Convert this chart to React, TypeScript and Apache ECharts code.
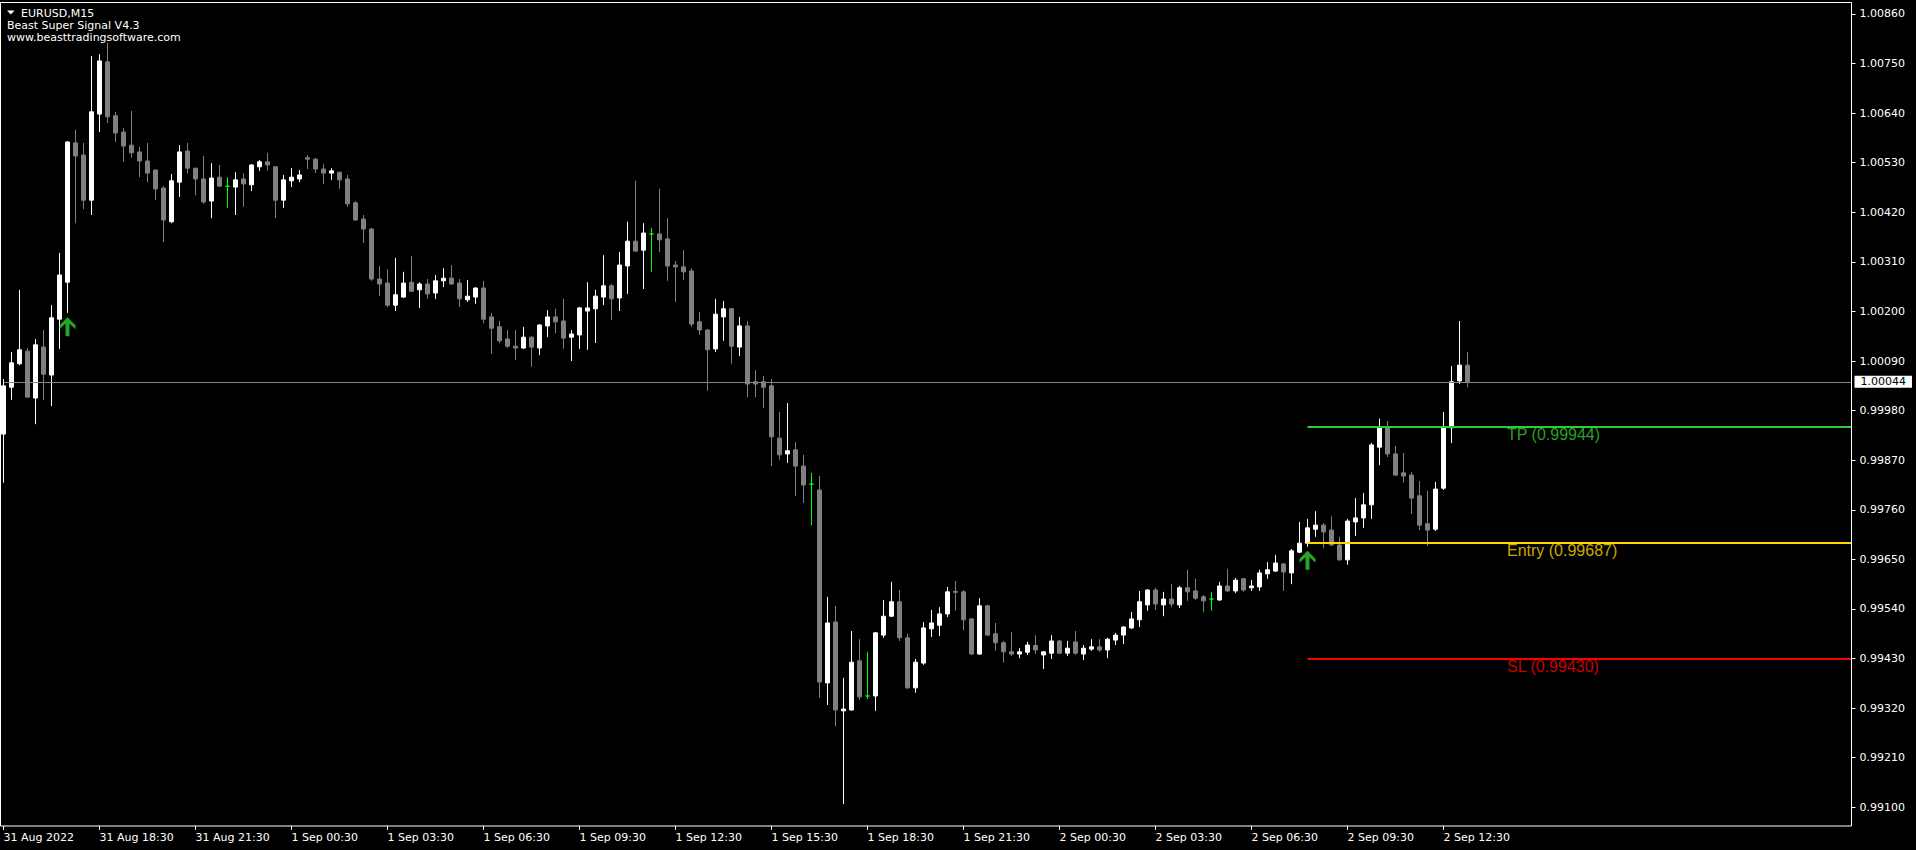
import React, { useEffect, useRef } from "react";
import * as echarts from "echarts";

// ---- Data (EURUSD M15, 31 Aug 15:30 → 2 Sep 13:15) ----
const openP = [
  0.99928, 1.00032, 1.00084, 1.00112, 1.00008, 1.00121, 1.00059, 1.00183, 1.00265, 1.00574,
  1.00547, 1.00447, 1.00638, 1.00754, 1.00634, 1.00598, 1.00569, 1.00554, 1.00534, 1.00514,
  1.00474, 1.00399, 1.00487, 1.00556, 1.00518, 1.00494, 1.00445, 1.00498, 1.00478, 1.00476,
  1.00494, 1.00481, 1.00521, 1.00532, 1.00521, 1.00447, 1.0049, 1.00494, 1.00541, 1.00538,
  1.00516, 1.00507, 1.00509, 1.00494, 1.00441, 1.00405, 1.00383, 1.00272, 1.00263, 1.00214,
  1.00232, 1.00265, 1.00248, 1.00261, 1.00241, 1.00268, 1.00274, 1.00263, 1.00226, 1.00232,
  1.00252, 1.00188, 1.00166, 1.00139, 1.00123, 1.00119, 1.00143, 1.00119, 1.00168, 1.00188,
  1.00179, 1.00143, 1.00148, 1.00201, 1.00206, 1.00232, 1.00257, 1.0023, 1.00301, 1.00356,
  1.00336, 1.00372, 1.00372, 1.00361, 1.00303, 1.00299, 1.0029, 1.00177, 1.00159, 1.00117,
  1.00188, 1.00206, 1.00121, 1.00168, 1.00044, 1.00044, 1.00035, 0.99919, 0.99884, 0.99893,
  0.99857, 0.99817, 0.99804, 0.99376, 0.99511, 0.99314, 0.99316, 0.99425, 0.99347, 0.99347,
  0.99482, 0.99524, 0.99556, 0.99476, 0.99365, 0.9942, 0.99496, 0.99504, 0.99529, 0.99579,
  0.99578, 0.99518, 0.9944, 0.99547, 0.99485, 0.99465, 0.99445, 0.9944, 0.99444, 0.99459,
  0.99438, 0.99442, 0.99469, 0.99442, 0.99467, 0.9944, 0.99451, 0.99456, 0.99449, 0.99471,
  0.99482, 0.99498, 0.99516, 0.99549, 0.99582, 0.99549, 0.99562, 0.99549, 0.99587, 0.9958,
  0.99567, 0.99562, 0.9956, 0.99591, 0.9958, 0.99607, 0.99587, 0.99589, 0.99618, 0.99624,
  0.9964, 0.9962, 0.99666, 0.99686, 0.99717, 0.99726, 0.99715, 0.99682, 0.99649, 0.99733,
  0.99742, 0.99771, 0.99899, 0.99942, 0.99884, 0.99842, 0.99837, 0.99791, 0.99729, 0.99717,
  0.99808, 0.99942, 1.00046, 1.00081,
];
const closeP = [
  1.00035, 1.00086, 1.00115, 1.0001, 1.00126, 1.00061, 1.00186, 1.00281, 1.00576, 1.00545,
  1.00447, 1.00643, 1.00756, 1.00632, 1.00596, 1.00567, 1.00552, 1.00534, 1.00507, 1.00472,
  1.00403, 1.0049, 1.00554, 1.00518, 1.00494, 1.00443, 1.00496, 1.00478, 1.00478, 1.00492,
  1.00483, 1.00525, 1.00532, 1.00525, 1.00447, 1.00492, 1.00498, 1.00503, 1.00538, 1.00516,
  1.00507, 1.00512, 1.00492, 1.00439, 1.00403, 1.00383, 1.00272, 1.00261, 1.00214, 1.00237,
  1.00263, 1.00245, 1.00261, 1.00239, 1.00268, 1.00274, 1.00261, 1.00228, 1.00234, 1.00252,
  1.00183, 1.00163, 1.00135, 1.00123, 1.00119, 1.00143, 1.00121, 1.0017, 1.00188, 1.00177,
  1.00141, 1.0015, 1.00208, 1.00208, 1.00234, 1.00257, 1.00228, 1.00303, 1.00356, 1.00334,
  1.00374, 1.00372, 1.00359, 1.00301, 1.00299, 1.00288, 1.00172, 1.00159, 1.00115, 1.00194,
  1.00206, 1.00123, 1.00168, 1.00039, 1.00039, 1.00032, 0.99922, 0.99882, 0.99891, 0.99857,
  0.99815, 0.99817, 0.99378, 0.99509, 0.99316, 0.99318, 0.99422, 0.99345, 0.99347, 0.99487,
  0.99524, 0.99556, 0.99476, 0.99365, 0.99422, 0.99498, 0.99509, 0.99529, 0.99578, 0.99577,
  0.99516, 0.9944, 0.99547, 0.99482, 0.99465, 0.99445, 0.9944, 0.99445, 0.9946, 0.99449,
  0.99445, 0.99469, 0.99442, 0.99453, 0.99442, 0.99453, 0.99456, 0.99449, 0.99473, 0.99482,
  0.995, 0.99518, 0.99556, 0.99582, 0.99551, 0.99562, 0.99551, 0.99587, 0.99578, 0.99564,
  0.99558, 0.99562, 0.99591, 0.9958, 0.99604, 0.99582, 0.99591, 0.9962, 0.99627, 0.99642,
  0.99622, 0.99669, 0.99686, 0.9972, 0.99726, 0.99711, 0.99682, 0.99649, 0.99735, 0.99742,
  0.99771, 0.99904, 0.99942, 0.99884, 0.99837, 0.99835, 0.99786, 0.99726, 0.99715, 0.99806,
  0.99944, 1.00044, 1.00081, 1.00044,
];
const lowP = [
  0.9982, 1.00004, 1.00081, 1.0001, 0.9995, 1.00004, 0.9999, 1.00117, 1.00197, 1.00396,
  1.00427, 1.00414, 1.00598, 1.00618, 1.00576, 1.00532, 1.00541, 1.00498, 1.00487, 1.00447,
  1.00354, 1.00396, 1.00454, 1.00507, 1.00458, 1.00439, 1.00407, 1.00478, 1.0043, 1.00414,
  1.00432, 1.00467, 1.00512, 1.00512, 1.00407, 1.0043, 1.00476, 1.00487, 1.00516, 1.00507,
  1.00483, 1.00492, 1.00472, 1.00432, 1.00401, 1.00352, 1.00268, 1.00234, 1.0021, 1.00201,
  1.0023, 1.00243, 1.00208, 1.00228, 1.00228, 1.00254, 1.00259, 1.0021, 1.00221, 1.00217,
  1.00174, 1.00106, 1.0013, 1.00119, 1.00092, 1.00117, 1.00077, 1.00103, 1.00143, 1.00152,
  1.00117, 1.0009, 1.00117, 1.00115, 1.0013, 1.00214, 1.00181, 1.00201, 1.00239, 1.00332,
  1.0025, 1.00288, 1.00332, 1.00268, 1.00221, 1.0027, 1.00166, 1.00148, 1.00024, 1.0011,
  1.00135, 1.00084, 1.00101, 1.0001, 1.0001, 0.99986, 0.99857, 0.99871, 0.99864, 0.99791,
  0.99775, 0.99726, 0.99343, 0.99327, 0.9928, 0.99107, 0.99314, 0.99338, 0.9934, 0.99314,
  0.99476, 0.99522, 0.99469, 0.99363, 0.99354, 0.99416, 0.99478, 0.9948, 0.99522, 0.99536,
  0.99493, 0.99438, 0.99438, 0.9948, 0.99447, 0.99421, 0.99436, 0.99431, 0.99438, 0.9944,
  0.99407, 0.99429, 0.9944, 0.99436, 0.99438, 0.99427, 0.99447, 0.99445, 0.99431, 0.9946,
  0.99462, 0.99496, 0.995, 0.99536, 0.99538, 0.99524, 0.99544, 0.99542, 0.99558, 0.9956,
  0.99533, 0.99536, 0.99558, 0.99578, 0.99575, 0.99578, 0.9958, 0.9958, 0.99607, 0.99622,
  0.9958, 0.99595, 0.99664, 0.99678, 0.997, 0.99675, 0.9968, 0.99647, 0.99638, 0.99702,
  0.9972, 0.9974, 0.99859, 0.99877, 0.99835, 0.9982, 0.99751, 0.99715, 0.9968, 0.99713,
  0.99804, 0.99908, 1.00039, 1.00032,
];
const highP = [
  1.0005, 1.0011, 1.00248, 1.00119, 1.00139, 1.00159, 1.00214, 1.0033, 1.00578, 1.00603,
  1.00574, 1.00767, 1.00771, 1.00796, 1.00643, 1.00607, 1.00645, 1.00565, 1.00574, 1.00514,
  1.00478, 1.00505, 1.00569, 1.00574, 1.00518, 1.00545, 1.00529, 1.00525, 1.00498, 1.00509,
  1.00507, 1.00527, 1.00536, 1.00552, 1.00521, 1.00503, 1.00518, 1.00514, 1.00547, 1.0054,
  1.00527, 1.00518, 1.0051, 1.00503, 1.00445, 1.00414, 1.00385, 1.00301, 1.00294, 1.00319,
  1.00288, 1.00323, 1.00265, 1.00272, 1.00281, 1.00296, 1.00303, 1.00272, 1.0027, 1.00254,
  1.00268, 1.00197, 1.00179, 1.00159, 1.00159, 1.00166, 1.00145, 1.00172, 1.00203, 1.00206,
  1.00228, 1.00159, 1.0021, 1.00265, 1.00248, 1.00325, 1.00261, 1.00332, 1.00399, 1.0049,
  1.00396, 1.00385, 1.00472, 1.00407, 1.00312, 1.00336, 1.00296, 1.00199, 1.00161, 1.00228,
  1.00223, 1.00208, 1.00188, 1.00179, 1.0007, 1.00057, 1.0005, 0.99977, 0.99997, 0.9991,
  0.99882, 0.99842, 0.99835, 0.99567, 0.99547, 0.99387, 0.99491, 0.99473, 0.99445, 0.99489,
  0.9956, 0.996, 0.99582, 0.99485, 0.99429, 0.99511, 0.99538, 0.99544, 0.99589, 0.99602,
  0.99582, 0.9952, 0.99564, 0.99549, 0.99509, 0.99469, 0.99489, 0.99453, 0.99467, 0.99482,
  0.99446, 0.99482, 0.99471, 0.99469, 0.99491, 0.9946, 0.99473, 0.99473, 0.99476, 0.99487,
  0.99502, 0.99533, 0.9958, 0.99584, 0.99587, 0.99578, 0.99595, 0.99591, 0.99627, 0.99607,
  0.99571, 0.99578, 0.996, 0.99629, 0.99609, 0.99609, 0.99604, 0.99627, 0.99644, 0.9966,
  0.99642, 0.99673, 0.99733, 0.9974, 0.99757, 0.99731, 0.99746, 0.997, 0.9974, 0.99786,
  0.99797, 0.99908, 0.99962, 0.99957, 0.99902, 0.99886, 0.99844, 0.99824, 0.99802, 0.99822,
  0.99977, 1.00079, 1.00179, 1.0011,
];

const xLabels = [
  "31 Aug 2022", "31 Aug 18:30", "31 Aug 21:30", "1 Sep 00:30", "1 Sep 03:30",
  "1 Sep 06:30", "1 Sep 09:30", "1 Sep 12:30", "1 Sep 15:30", "1 Sep 18:30",
  "1 Sep 21:30", "2 Sep 00:30", "2 Sep 03:30", "2 Sep 06:30", "2 Sep 09:30", "2 Sep 12:30",
];
const yTicks = [
  0.991, 0.9921, 0.9932, 0.9943, 0.9954, 0.9965, 0.9976, 0.9987, 0.9998,
  1.0009, 1.002, 1.0031, 1.0042, 1.0053, 1.0064, 1.0075, 1.0086,
];

const bidPrice = 1.00044;
const levelNames = ["TP", "Entry", "SL"];
const levelValues = [0.99944, 0.99687, 0.9943];
const levelColors = ["#32cd32", "#ffd700", "#ff0000"];
const levelStartIdx = 163;

const signalIdx = [8, 163];
const signalPrice = [1.00166, 0.99648];

// ---- layout helpers ----
const TOTAL_SLOTS = 232; // bars + empty right shift
const LABEL_STEP = 12;
const BULL = "#ffffff";
const BEAR = "#808080";
const DOJI = "#00ff00";
const AXIS_FONT = "DejaVu Sans";

const ARROW =
  "path://M8,0 L16,8 L16,12 L10,6.5 L10,19 L6,19 L6,6.5 L0,12 L0,8 Z";

export default function App() {
  const ref = useRef<HTMLDivElement>(null);

  useEffect(() => {
    document.body.style.margin = "0";
    document.body.style.background = "#000";
    const el = ref.current;
    if (!el) return;
    const chart = echarts.init(el, null, { renderer: "svg" });

    const cats = Array.from({ length: TOTAL_SLOTS }, (_, i) => String(i));
    const nBars = openP.length;

    const candleData = openP.map((o, i) => {
      const v = [o, closeP[i], lowP[i], highP[i]];
      if (o === closeP[i]) {
        return {
          value: v,
          itemStyle: { color: DOJI, color0: DOJI, borderColor: DOJI, borderColor0: DOJI },
        };
      }
      return v;
    });

    const levelLines = levelValues.map((v, k) => [
      {
        coord: [cats[levelStartIdx], v],
        lineStyle: { color: levelColors[k], width: 2, type: "solid" },
        label: { show: false },
      },
      { coord: [cats[TOTAL_SLOTS - 1], v] },
    ]);

    const bidLine = [
      {
        coord: [cats[0], bidPrice],
        lineStyle: { color: "#778899", width: 1, type: "solid" },
        label: {
          show: true,
          position: "end",
          distance: 3,
          formatter: bidPrice.toFixed(5),
          color: "#000000",
          backgroundColor: "#ffffff",
          padding: [1, 6, 0, 6],
          fontSize: 11,
          fontFamily: AXIS_FONT,
        },
      },
      { coord: [cats[TOTAL_SLOTS - 1], bidPrice] },
    ];

    const option: any = {
      animation: false,
      backgroundColor: "#000000",
      grid: { left: 3.5, right: 64.5, top: 2, bottom: 24, containLabel: false },
      xAxis: {
        type: "category",
        data: cats,
        boundaryGap: false,
        axisLine: { show: false },
        axisTick: {
          show: true,
          length: 4,
          interval: (idx: number) => idx % LABEL_STEP === 0 && idx < nBars,
          lineStyle: { color: "#ffffff", width: 1 },
        },
        axisLabel: {
          show: true,
          interval: (idx: number) => idx % LABEL_STEP === 0 && idx < nBars,
          formatter: (_v: string, idx: number) =>
            idx % LABEL_STEP === 0 && xLabels[idx / LABEL_STEP] ? xLabels[idx / LABEL_STEP] : "",
          align: "left",
          color: "#ffffff",
          fontSize: 11,
          fontFamily: AXIS_FONT,
          margin: 6,
          showMinLabel: true,
          showMaxLabel: true,
          hideOverlap: false,
        },
        splitLine: { show: false },
      },
      yAxis: {
        type: "value",
        position: "right",
        min: 0.9905852,
        max: 1.0088662,
        scale: true,
        axisLine: { show: false },
        splitLine: { show: false },
        axisTick: {
          show: true,
          length: 4,
          customValues: yTicks,
          lineStyle: { color: "#ffffff", width: 1 },
        },
        axisLabel: {
          show: true,
          customValues: yTicks,
          formatter: (v: number) => v.toFixed(5),
          color: "#ffffff",
          fontSize: 11,
          fontFamily: AXIS_FONT,
          margin: 8,
        },
      },
      series: [
        {
          type: "candlestick",
          data: candleData,
          barWidth: 4,
          clip: false,
          itemStyle: {
            color: BULL,
            color0: BEAR,
            borderColor: BULL,
            borderColor0: BEAR,
            borderColorDoji: DOJI,
            borderWidth: 1,
          },
          markLine: {
            silent: true,
            symbol: ["none", "none"],
            precision: 5,
            animation: false,
            data: [bidLine, ...levelLines],
          },
        },
        {
          type: "scatter",
          silent: true,
          symbol: "circle",
          symbolSize: 1,
          itemStyle: { color: "rgba(0,0,0,0)" },
          data: levelValues.map((v, k) => ({
            value: [cats[188], v],
            label: {
              show: true,
              position: [0, 8],
              align: "left",
              verticalAlign: "middle",
              formatter: `${levelNames[k]} (${v.toFixed(5)})`,
              color: levelColors[k],
              fontSize: 16,
              fontFamily: "Liberation Sans",
            },
          })),
          z: 5,
        },
        {
          type: "scatter",
          silent: true,
          symbol: ARROW,
          symbolSize: [16, 19],
          itemStyle: { color: "#32cd32" },
          data: signalIdx.map((idx, k) => [cats[idx], signalPrice[k]]),
          z: 6,
        },
      ],
      graphic: [
        {
          type: "rect",
          silent: true,
          z: 100,
          shape: { x: 0.5, y: 2.5, width: 1851, height: 823.5 },
          style: { fill: "none", stroke: "#ffffff", lineWidth: 1 },
        },
        {
          type: "polygon",
          silent: true,
          z: 101,
          shape: { points: [[7, 10.5], [14.5, 10.5], [10.75, 14.5]] },
          style: { fill: "#ffffff" },
        },
        {
          type: "text",
          silent: true,
          z: 101,
          x: 21,
          y: 13,
          style: {
            text: "EURUSD,M15",
            fill: "#ffffff",
            font: `11px "${AXIS_FONT}"`,
            verticalAlign: "middle",
            align: "left",
          },
        },
        {
          type: "text",
          silent: true,
          z: 101,
          x: 7,
          y: 25,
          style: {
            text: "Beast Super Signal V4.3",
            fill: "#ffffff",
            font: `11px "${AXIS_FONT}"`,
            verticalAlign: "middle",
            align: "left",
          },
        },
        {
          type: "text",
          silent: true,
          z: 101,
          x: 7,
          y: 37.5,
          style: {
            text: "www.beasttradingsoftware.com",
            fill: "#ffffff",
            font: `11px "${AXIS_FONT}"`,
            verticalAlign: "middle",
            align: "left",
          },
        },
      ],
    };

    chart.setOption(option);
    return () => chart.dispose();
  }, []);

  return (
    <div
      ref={ref}
      style={{ position: "absolute", left: 0, top: 0, width: 1916, height: 850, background: "#000" }}
    />
  );
}
